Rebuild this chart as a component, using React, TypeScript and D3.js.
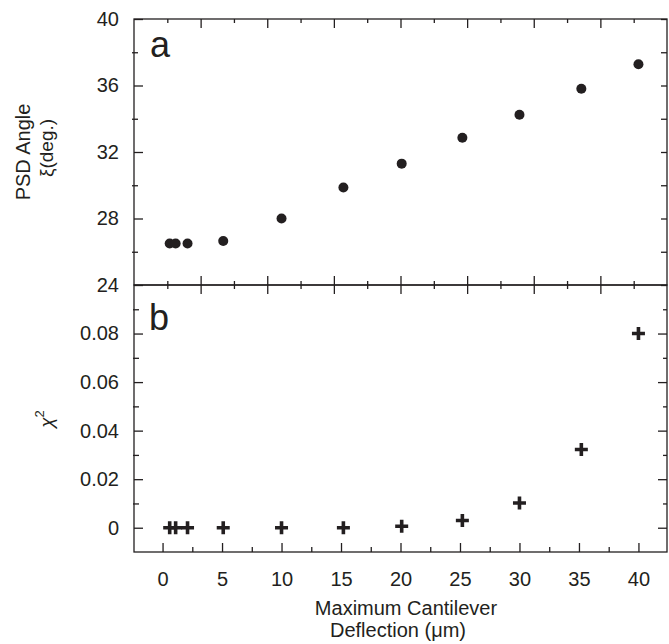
import React, { useRef, useEffect } from 'react';
import * as d3 from 'd3';

// maximum cantilever deflection (um)
const deflection = [0.6, 1.1, 2.1, 5.1, 10, 15.2, 20.1, 25.2, 30, 35.2, 40];
// panel a: PSD angle (deg.)
const psdAngle = [26.5, 26.5, 26.5, 26.65, 28.0, 29.86, 31.3, 32.86, 34.24, 35.8, 37.28];
// panel b: chi squared
const chiSquared = [0, 0, 0, 0, 0, 0, 0.0006, 0.003, 0.0102, 0.0322, 0.08];

const xTicks = [0, 5, 10, 15, 20, 25, 30, 35, 40];
const xMinor = [2.5, 7.5, 12.5, 17.5, 22.5, 27.5, 32.5, 37.5];
const angleTicks = [24, 28, 32, 36, 40];
const angleMinor = [26, 30, 34, 38];
const chiTicks = [0, 0.02, 0.04, 0.06, 0.08];
const chiTickLabels = ['0', '0.02', '0.04', '0.06', '0.08'];
const chiMinor = [0.01, 0.03, 0.05, 0.07, 0.09];
const frameMajor = [2, 4, 6, 8, 10, 12, 14];
const frameMinor = [1, 3, 5, 7, 9, 11, 13, 15];

const W = 669;
const H = 644;
const left = 134;
const right = 667;
const topA = 19;
const mid = 285;
const bottomB = 552;
const ink = '#231f20';
const font = 'Liberation Sans, Arial, Helvetica, sans-serif';

const App = () => {
  const svgRef = useRef(null);

  useEffect(() => {
    const svg = d3.select(svgRef.current);
    svg.selectAll('.axes').remove();
    const root = svg.append('g').attr('class', 'axes');

    const x = d3.scaleLinear().domain([-2.4, 42.4]).range([left, right]);
    // the frame ticks of panel a run on their own even spacing
    const frame = d3.scaleLinear().domain([0, 16]).range([left, right]);
    const yA = d3.scaleLinear().domain([24, 40]).range([mid, topA]);
    const yB = d3.scaleLinear().domain([-0.01, 0.1]).range([bottomB, mid]);

    const style = (g, keepText = false) => {
      g.select('.domain').remove();
      g.selectAll('line').attr('stroke', ink).attr('stroke-width', 1.3);
      if (!keepText) g.selectAll('text').remove();
      g.selectAll('text')
        .attr('fill', ink)
        .attr('font-size', 20)
        .attr('font-family', font);
      g.attr('font-size', null).attr('font-family', null);
    };

    const add = (axis, tx, ty, keepText = false) =>
      root.append('g')
        .attr('transform', `translate(${tx},${ty})`)
        .call(axis)
        .call(g => style(g, keepText));

    // panel a: top edge
    add(d3.axisTop(frame).tickValues(frameMajor).tickSize(-9), 0, topA);
    add(d3.axisTop(frame).tickValues(frameMinor).tickSize(-4), 0, topA);
    // shared edge (bottom of a, top of b)
    add(d3.axisBottom(frame).tickValues(frameMajor).tickSize(-9), 0, mid);
    add(d3.axisBottom(frame).tickValues(frameMinor).tickSize(-4), 0, mid);
    add(d3.axisTop(frame).tickValues(frameMajor).tickSize(-9), 0, mid);
    add(d3.axisTop(frame).tickValues(frameMinor).tickSize(-4), 0, mid);

    // panel a: left axis
    add(d3.axisLeft(yA).tickValues(angleTicks).tickSize(-9).tickPadding(15), left, 0, true);
    add(d3.axisLeft(yA).tickValues(angleMinor).tickSize(2), left, 0)
      .selectAll('line').attr('x1', -2).attr('x2', 4);
    // panel a: right axis
    add(d3.axisRight(yA).tickValues([...angleTicks, ...angleMinor]).tickSize(-6), right, 0);

    // panel b: left axis
    add(
      d3.axisLeft(yB).tickValues(chiTicks).tickSize(-9).tickPadding(15)
        .tickFormat((d, i) => chiTickLabels[i]),
      left, 0, true
    );
    add(d3.axisLeft(yB).tickValues(chiMinor).tickSize(2), left, 0)
      .selectAll('line').attr('x1', -1).attr('x2', 5);
    // panel b: right axis
    add(d3.axisRight(yB).tickValues(chiTicks).tickSize(-9), right, 0);
    add(d3.axisRight(yB).tickValues(chiMinor).tickSize(-4), right, 0);

    // panel b: bottom axis
    add(d3.axisBottom(x).tickValues(xTicks).tickSize(-9).tickPadding(20), 0, bottomB, true);
    add(d3.axisBottom(x).tickValues(xMinor).tickSize(-5), 0, bottomB);

    // frames
    root.append('rect')
      .attr('x', left).attr('y', topA)
      .attr('width', right - left).attr('height', mid - topA)
      .attr('fill', 'none').attr('stroke', ink).attr('stroke-width', 1.3);
    root.append('rect')
      .attr('x', left).attr('y', mid)
      .attr('width', right - left).attr('height', bottomB - mid)
      .attr('fill', 'none').attr('stroke', ink).attr('stroke-width', 1.3);

    // panel a points
    root.append('g')
      .selectAll('circle')
      .data(deflection)
      .enter()
      .append('circle')
      .attr('cx', d => x(d))
      .attr('cy', (d, i) => yA(psdAngle[i]))
      .attr('r', 5)
      .attr('fill', ink);

    // panel b crosses
    root.append('g')
      .selectAll('path')
      .data(deflection)
      .enter()
      .append('path')
      .attr('transform', (d, i) => `translate(${x(d)},${yB(chiSquared[i])})`)
      .attr('d', 'M-6.5,0H6.5M0,-6.5V6.5')
      .attr('stroke', ink)
      .attr('stroke-width', 3.6)
      .attr('fill', 'none');
  }, []);

  return (
    <svg
      ref={svgRef}
      width={W}
      height={H}
      style={{ position: 'absolute', left: 0, top: 0, background: '#fff' }}
      fontFamily={font}
    >
      <rect x={0} y={0} width={W} height={H} fill="#fff" />
      <text x={150} y={57} fontSize={36} fill={ink}>a</text>
      <text x={149} y={330} fontSize={36} fill={ink}>b</text>

      <text transform="translate(30,152) rotate(-90)" textAnchor="middle" fontSize={20} fill={ink}>
        PSD Angle
      </text>
      <text transform="translate(53,148) rotate(-90)" textAnchor="middle" fontSize={19} fill={ink}>
        ξ(deg.)
      </text>
      <text transform="translate(53,419) rotate(-90)" textAnchor="middle" fontSize={19} fill={ink}>
        <tspan fontStyle="italic">χ</tspan>
        <tspan fontSize={13} dy={-9}>2</tspan>
      </text>

      <text x={406} y={615} textAnchor="middle" fontSize={20} fill={ink}>
        Maximum Cantilever
      </text>
      <text x={398} y={637} textAnchor="middle" fontSize={20} fill={ink}>
        Deflection (μm)
      </text>
    </svg>
  );
};

export default App;
